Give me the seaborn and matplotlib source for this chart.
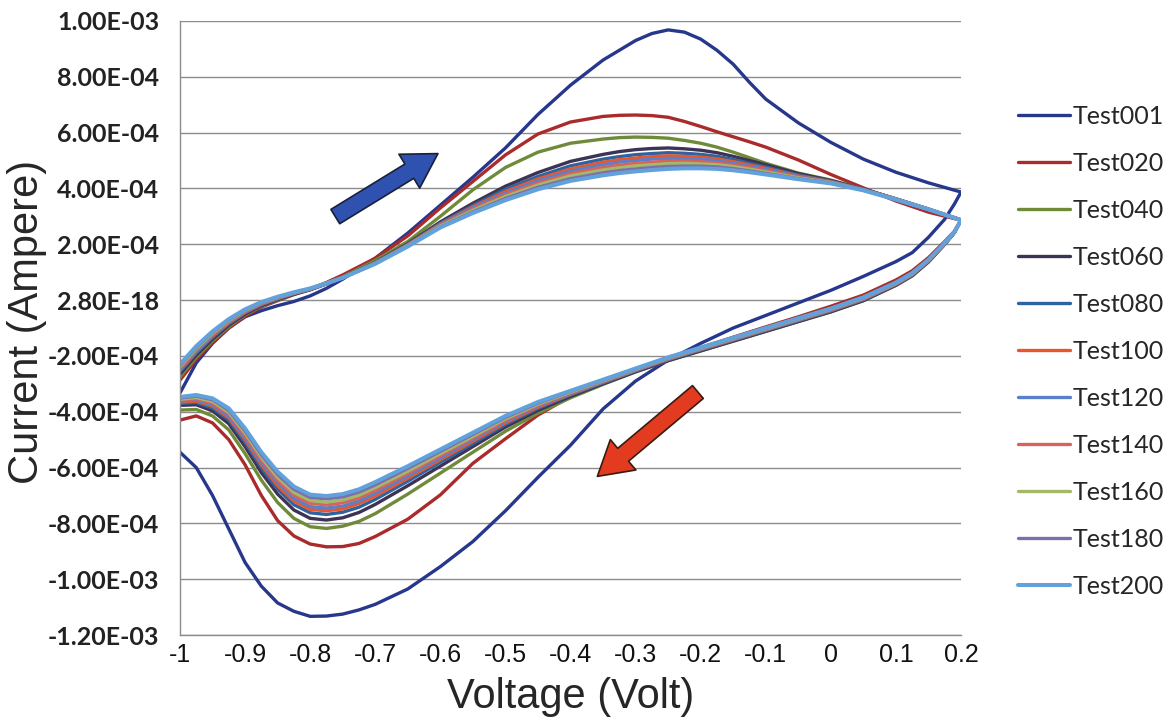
import numpy as np
import pandas as pd
import matplotlib
matplotlib.use("Agg")
import matplotlib.pyplot as plt
import seaborn as sns

# sweep voltages (V): forward scan -1 -> 0.2, reverse scan 0.2 -> -1
v_fwd = [-1, -0.975, -0.95, -0.925, -0.9, -0.875, -0.85, -0.825, -0.8, -0.775, -0.75, -0.7, -0.65,
         -0.6, -0.55, -0.5, -0.45, -0.4, -0.35, -0.325, -0.3, -0.275, -0.25, -0.225, -0.2, -0.175,
         -0.15, -0.125, -0.1, -0.05, 0, 0.05, 0.1, 0.15, 0.2]
v_rev = [0.2, 0.19, 0.175, 0.15, 0.125, 0.1, 0.05, 0, -0.05, -0.1, -0.15, -0.2, -0.25, -0.3, -0.35,
         -0.4, -0.45, -0.5, -0.55, -0.6, -0.65, -0.7, -0.725, -0.75, -0.775, -0.8, -0.825, -0.85,
         -0.875, -0.9, -0.925, -0.95, -0.975, -1]

# currents in units of 1e-4 A
test001_fwd = [-3.33, -2.25, -1.55, -1.0, -0.6, -0.38, -0.2, -0.05, 0.15, 0.42, 0.75, 1.5, 2.4,
               3.4, 4.4, 5.45, 6.65, 7.7, 8.6, 8.95, 9.3, 9.55, 9.68, 9.6, 9.35, 8.95,
               8.45, 7.8, 7.2, 6.35, 5.65, 5.05, 4.58, 4.2, 3.87]
test001_rev = [3.87, 3.45, 2.9, 2.25, 1.7, 1.38, 0.85, 0.35, -0.1, -0.55, -1.0, -1.55, -2.15, -2.9, -3.9,
               -5.2, -6.35, -7.55, -8.65, -9.55, -10.35, -10.9, -11.1, -11.25, -11.32, -11.33, -11.15, -10.85,
               -10.25, -9.4, -8.2, -7.0, -6.0, -5.45]

test020_fwd = [-2.87, -2.12, -1.52, -1.0, -0.58, -0.25, -0.02, 0.2, 0.4, 0.63, 0.9, 1.5, 2.3,
               3.3, 4.25, 5.2, 5.95, 6.38, 6.58, 6.62, 6.63, 6.61, 6.55, 6.4, 6.22, 6.03,
               5.85, 5.67, 5.48, 5.02, 4.5, 4.02, 3.55, 3.15, 2.86]
test020_rev = [2.86, 2.47, 2.1, 1.52, 1.05, 0.72, 0.18, -0.22, -0.6, -0.96, -1.33, -1.7, -2.07, -2.47, -2.9,
               -3.45, -4.12, -4.97, -5.85, -6.98, -7.85, -8.47, -8.72, -8.83, -8.84, -8.74, -8.45, -7.9,
               -7.0, -5.9, -5.0, -4.4, -4.15, -4.3]

test040_fwd = [-2.75, -2.05, -1.46, -0.95, -0.53, -0.22, 0.0, 0.2, 0.37, 0.6, 0.83, 1.42, 2.1,
               3.0, 3.95, 4.75, 5.3, 5.62, 5.77, 5.82, 5.84, 5.83, 5.8, 5.72, 5.62, 5.48,
               5.3, 5.1, 4.9, 4.55, 4.3, 3.98, 3.62, 3.25, 2.87]
test040_rev = [2.87, 2.42, 2.0, 1.37, 0.87, 0.53, -0.02, -0.42, -0.77, -1.12, -1.47, -1.82, -2.17, -2.57, -3.02,
               -3.5, -4.05, -4.7, -5.45, -6.2, -6.95, -7.65, -7.93, -8.1, -8.18, -8.12, -7.82, -7.25,
               -6.45, -5.5, -4.65, -4.15, -3.92, -3.94]

test060_fwd = [-2.65, -1.97, -1.4, -0.9, -0.5, -0.2, 0.02, 0.21, 0.37, 0.58, 0.8, 1.35, 2.02,
               2.8, 3.47, 4.08, 4.57, 4.97, 5.22, 5.32, 5.39, 5.43, 5.45, 5.42, 5.37, 5.28,
               5.15, 5.0, 4.85, 4.53, 4.28, 3.98, 3.63, 3.26, 2.87]
test060_rev = [2.87, 2.42, 2.0, 1.37, 0.87, 0.53, -0.02, -0.42, -0.77, -1.12, -1.47, -1.82, -2.17, -2.57, -3.0,
               -3.45, -3.95, -4.55, -5.25, -5.95, -6.65, -7.32, -7.61, -7.8, -7.88, -7.82, -7.52, -6.95,
               -6.18, -5.25, -4.43, -3.97, -3.75, -3.77]

test080_fwd = [-2.57, -1.9, -1.34, -0.85, -0.46, -0.17, 0.04, 0.23, 0.38, 0.58, 0.8, 1.34, 2.0,
               2.75, 3.39, 3.97, 4.43, 4.81, 5.05, 5.14, 5.21, 5.25, 5.28, 5.26, 5.22, 5.15,
               5.04, 4.9, 4.77, 4.48, 4.26, 3.97, 3.62, 3.26, 2.87]
test080_rev = [2.87, 2.43, 2.01, 1.39, 0.89, 0.55, 0.01, -0.39, -0.74, -1.09, -1.44, -1.79, -2.14, -2.54, -2.97,
               -3.4, -3.88, -4.46, -5.14, -5.81, -6.49, -7.14, -7.42, -7.6, -7.68, -7.62, -7.33, -6.77,
               -6.01, -5.1, -4.3, -3.87, -3.67, -3.7]

test100_fwd = [-2.52, -1.85, -1.29, -0.82, -0.44, -0.15, 0.06, 0.24, 0.39, 0.59, 0.8, 1.33, 1.98,
               2.72, 3.34, 3.89, 4.34, 4.7, 4.94, 5.03, 5.09, 5.14, 5.17, 5.15, 5.12, 5.06,
               4.96, 4.84, 4.72, 4.45, 4.24, 3.96, 3.62, 3.26, 2.87]
test100_rev = [2.87, 2.43, 2.02, 1.4, 0.91, 0.57, 0.03, -0.37, -0.72, -1.07, -1.42, -1.77, -2.12, -2.52, -2.94,
               -3.37, -3.84, -4.4, -5.06, -5.72, -6.38, -7.02, -7.29, -7.48, -7.55, -7.5, -7.2, -6.65,
               -5.9, -5.0, -4.22, -3.8, -3.62, -3.66]

test120_fwd = [-2.48, -1.81, -1.26, -0.79, -0.42, -0.14, 0.07, 0.25, 0.4, 0.59, 0.8, 1.33, 1.97,
               2.7, 3.3, 3.83, 4.27, 4.62, 4.85, 4.94, 5.0, 5.05, 5.08, 5.07, 5.05, 4.99,
               4.9, 4.79, 4.68, 4.43, 4.23, 3.96, 3.62, 3.26, 2.87]
test120_rev = [2.87, 2.44, 2.03, 1.41, 0.92, 0.58, 0.04, -0.36, -0.71, -1.06, -1.41, -1.76, -2.11, -2.51, -2.93,
               -3.35, -3.8, -4.35, -5.0, -5.65, -6.3, -6.92, -7.2, -7.38, -7.45, -7.4, -7.1, -6.55,
               -5.82, -4.93, -4.16, -3.75, -3.58, -3.62]

test140_fwd = [-2.43, -1.77, -1.22, -0.76, -0.39, -0.12, 0.08, 0.25, 0.4, 0.59, 0.8, 1.32, 1.96,
               2.67, 3.25, 3.77, 4.19, 4.53, 4.75, 4.83, 4.9, 4.94, 4.98, 4.98, 4.96, 4.91,
               4.84, 4.74, 4.63, 4.4, 4.22, 3.95, 3.61, 3.25, 2.87]
test140_rev = [2.87, 2.44, 2.03, 1.42, 0.93, 0.59, 0.06, -0.34, -0.69, -1.04, -1.39, -1.74, -2.09, -2.49, -2.91,
               -3.32, -3.76, -4.3, -4.94, -5.57, -6.21, -6.82, -7.09, -7.26, -7.34, -7.28, -6.99, -6.45,
               -5.72, -4.84, -4.08, -3.69, -3.53, -3.58]

test160_fwd = [-2.39, -1.73, -1.19, -0.74, -0.37, -0.1, 0.1, 0.26, 0.41, 0.6, 0.8, 1.31, 1.95,
               2.65, 3.21, 3.71, 4.12, 4.45, 4.66, 4.74, 4.81, 4.85, 4.89, 4.9, 4.88, 4.85,
               4.78, 4.69, 4.59, 4.38, 4.21, 3.94, 3.61, 3.25, 2.87]
test160_rev = [2.87, 2.44, 2.04, 1.43, 0.94, 0.6, 0.07, -0.33, -0.68, -1.03, -1.38, -1.73, -2.08, -2.48, -2.89,
               -3.3, -3.73, -4.25, -4.88, -5.5, -6.13, -6.72, -6.99, -7.16, -7.24, -7.18, -6.89, -6.35,
               -5.63, -4.76, -4.02, -3.63, -3.49, -3.55]

test180_fwd = [-2.34, -1.69, -1.15, -0.71, -0.35, -0.09, 0.11, 0.27, 0.41, 0.6, 0.8, 1.31, 1.93,
               2.62, 3.16, 3.64, 4.04, 4.35, 4.56, 4.64, 4.7, 4.75, 4.79, 4.8, 4.8, 4.77,
               4.71, 4.63, 4.54, 4.35, 4.19, 3.94, 3.6, 3.25, 2.87]
test180_rev = [2.87, 2.45, 2.04, 1.44, 0.96, 0.62, 0.09, -0.31, -0.66, -1.01, -1.36, -1.71, -2.06, -2.46, -2.87,
               -3.27, -3.69, -4.2, -4.81, -5.42, -6.03, -6.62, -6.88, -7.05, -7.12, -7.07, -6.78, -6.25,
               -5.54, -4.68, -3.95, -3.57, -3.44, -3.51]

test200_fwd = [-2.3, -1.65, -1.12, -0.68, -0.33, -0.07, 0.12, 0.28, 0.42, 0.6, 0.8, 1.3, 1.92,
               2.6, 3.12, 3.58, 3.97, 4.27, 4.47, 4.55, 4.61, 4.66, 4.7, 4.72, 4.72, 4.7,
               4.65, 4.58, 4.5, 4.33, 4.18, 3.93, 3.6, 3.25, 2.87]
test200_rev = [2.87, 2.45, 2.05, 1.45, 0.97, 0.63, 0.1, -0.3, -0.65, -1.0, -1.35, -1.7, -2.05, -2.45, -2.85,
               -3.25, -3.65, -4.15, -4.75, -5.35, -5.95, -6.52, -6.78, -6.95, -7.02, -6.97, -6.68, -6.15,
               -5.45, -4.6, -3.88, -3.52, -3.4, -3.47]

series = {
    "Test001": (test001_fwd, test001_rev),
    "Test020": (test020_fwd, test020_rev),
    "Test040": (test040_fwd, test040_rev),
    "Test060": (test060_fwd, test060_rev),
    "Test080": (test080_fwd, test080_rev),
    "Test100": (test100_fwd, test100_rev),
    "Test120": (test120_fwd, test120_rev),
    "Test140": (test140_fwd, test140_rev),
    "Test160": (test160_fwd, test160_rev),
    "Test180": (test180_fwd, test180_rev),
    "Test200": (test200_fwd, test200_rev),
}
colors = {
    "Test001": "#26378C", "Test020": "#A92B2B", "Test040": "#6F8B3A", "Test060": "#3D3354",
    "Test080": "#2F63A0", "Test100": "#E8572B", "Test120": "#5C7FCA", "Test140": "#D8635C",
    "Test160": "#A2B96A", "Test180": "#7E6FA6", "Test200": "#62A2DC",
}

x_ticks = [-1, -0.9, -0.8, -0.7, -0.6, -0.5, -0.4, -0.3, -0.2, -0.1, 0, 0.1, 0.2]
x_ticklabels = ["-1", "-0.9", "-0.8", "-0.7", "-0.6", "-0.5", "-0.4", "-0.3", "-0.2", "-0.1", "0", "0.1", "0.2"]
y_ticks = [1.0e-3, 8e-4, 6e-4, 4e-4, 2e-4, 0, -2e-4, -4e-4, -6e-4, -8e-4, -1.0e-3, -1.2e-3]
y_ticklabels = ["1.00E-03", "8.00E-04", "6.00E-04", "4.00E-04", "2.00E-04", "2.80E-18",
                "-2.00E-04", "-4.00E-04", "-6.00E-04", "-8.00E-04", "-1.00E-03", "-1.20E-03"]

rows = []
for name, (fwd, rev) in series.items():
    volts = v_fwd + v_rev
    amps = fwd + rev
    for k, (v, a) in enumerate(zip(volts, amps)):
        rows.append((name, k, v, a * 1e-4))
df = pd.DataFrame(rows, columns=["series", "step", "voltage", "current"])

sns.set_style("white")
plt.rcParams["font.family"] = ["Lato", "DejaVu Sans"]

fig = plt.figure(figsize=(11.74, 7.28), dpi=100)
ax = fig.add_axes([0.1533, 0.1277, 0.6653, 0.8435])

for name in series:
    sub = df[df["series"] == name]
    lw = 2.9 if name == "Test200" else 2.4
    sns.lineplot(data=sub, x="voltage", y="current", sort=False, estimator=None,
                 color=colors[name], linewidth=lw, label=name, ax=ax)

ax.set_xlim(-1, 0.2)
ax.set_ylim(-1.2e-3, 1.0e-3)
ax.set_xticks(x_ticks)
ax.set_xticklabels(x_ticklabels, family=["Liberation Sans Narrow", "Liberation Sans", "DejaVu Sans"],
                   fontsize=18, color="#111111")
ax.set_yticks(y_ticks)
ax.set_yticklabels(y_ticklabels, fontsize=18, fontweight="bold", color="#222222")

ax.yaxis.grid(True, color="#8c8c8c", linewidth=1.0)
ax.xaxis.grid(False)
ax.set_axisbelow(True)
for side in ["top", "right"]:
    ax.spines[side].set_visible(False)
for side in ["left", "bottom"]:
    ax.spines[side].set_color("#8c8c8c")
    ax.spines[side].set_linewidth(1.0)
ax.tick_params(axis="both", direction="out", length=6, width=1, color="#8c8c8c")
ax.tick_params(axis="x", pad=0)
ax.tick_params(axis="y", pad=9)

ax.set_xlabel("Voltage (Volt)", family=["Liberation Sans", "DejaVu Sans"], fontsize=30)
ax.set_ylabel("Current (Ampere)", family=["Liberation Sans", "DejaVu Sans"], fontsize=30)
ax.xaxis.set_label_coords(0.5, -0.068)
ax.yaxis.set_label_coords(-0.17, 0.51)

# scan direction arrows
ax.annotate("", xy=(-0.6, 5.3e-4), xytext=(-0.765, 2.94e-4),
            arrowprops=dict(arrowstyle="simple,head_length=1.1,head_width=1.3,tail_width=0.55",
                            fc="#2F52B0", ec="#1a1f3a", lw=1.2, mutation_scale=22))
ax.annotate("", xy=(-0.362, -6.38e-4), xytext=(-0.201, -3.23e-4),
            arrowprops=dict(arrowstyle="simple,head_length=1.1,head_width=1.3,tail_width=0.55",
                            fc="#E23B1F", ec="#3a1a12", lw=1.2, mutation_scale=22))

handles, labels = ax.get_legend_handles_labels()
ax.legend(handles, labels, loc="center left", bbox_to_anchor=(1.06, 0.462), frameon=False,
          fontsize=18, handlelength=2.1, handletextpad=0.1, labelspacing=0.96,
          borderaxespad=0)

fig.savefig("out.png", dpi=100)
